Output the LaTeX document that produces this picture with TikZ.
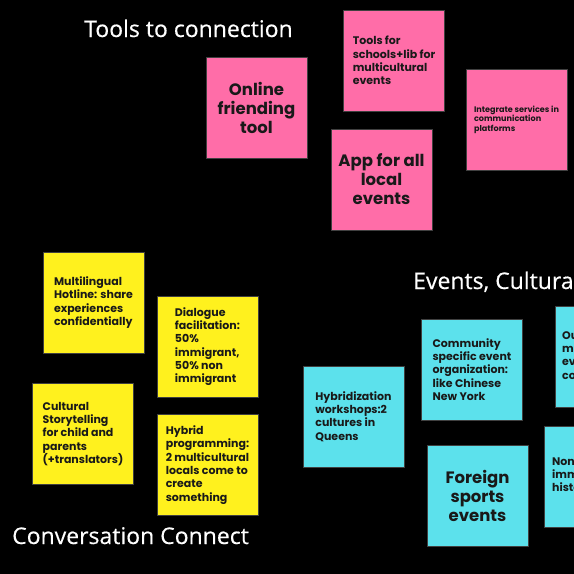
\documentclass[tikz,border=0pt]{standalone}
\usepackage{fontspec}
\newfontfamily\notefont{Poppins}
\newfontfamily\titlefont{Open Sans}[FakeBold=0.35]
\definecolor{notepink}{HTML}{FF6DA8}
\definecolor{noteyellow}{HTML}{FFF11E}
\definecolor{notecyan}{HTML}{5CE1EC}
\tikzset{
  notetext/.style={align=left, font=\notefont\bfseries\fontsize{11}{13.3}\selectfont, text=black!90},
  note/.style={notetext, draw=black!75, line width=0.6pt, minimum width=101pt, minimum height=101pt,
    inner sep=0pt},
  bignote/.style={note, align=center, font=\notefont\bfseries\fontsize{16.5}{19}\selectfont},
  tinynote/.style={note, font=\notefont\bfseries\fontsize{8.1}{9.5}\selectfont},
  pinknote/.style={fill=notepink},
  yellownote/.style={fill=noteyellow},
  cyannote/.style={fill=notecyan},
  heading/.style={anchor=base west, inner sep=0pt, text=white, font=\titlefont\fontsize{23}{26}\selectfont}
}
\begin{document}
\begin{tikzpicture}[x=1pt, y=-1pt]
  \useasboundingbox (0,0) rectangle (574,574);
  \clip (0,0) rectangle (574,574);
  \fill[black] (0,0) rectangle (574,574);

  % Tools to connection
  \node[heading] (t1) at (84,37) {Tools to connection};
  \node[bignote, pinknote] (p1) at (256.5,107.5) {Online\\friending\\tool};
  \node[note, pinknote] (p2) at (394,60.5) {Tools for\\schools+lib for\\multicultural\\events};
  \node[tinynote, pinknote] (p3) at (516.5,119.5) {Integrate services in\\communication\\platforms};
  \node[bignote, pinknote] (p4) at (381.5,179.5) {App for all\\local\\events};

  % Conversation Connect
  \node[heading] (t2) at (12,544) {Conversation Connect};
  \node[note, yellownote] (y1) at (93.5,302.5) {Multilingual\\Hotline: share\\experiences\\confidentially};
  \node[note, yellownote] (y2) at (207.5,346.5) {Dialogue\\facilitation:\\50\%\\immigrant,\\50\% non\\immigrant};
  \node[note, yellownote] (y3) at (83,434) {Cultural\\Storytelling\\for child and\\parents\\(+translators)};
  \node[note, yellownote] (y4) at (207.5,465) {Hybrid\\programming:\\2 multicultural\\locals come to\\create\\something};

  % Events, Cultural
  \node[heading] (t3) at (413,289) {Events, Cultural};
  \node[note, cyannote] (c1) at (353.5,416.5) {Hybridization\\workshops:2\\cultures in\\Queens};
  \node[note, cyannote] (c2) at (472,369.5) {Community\\specific event\\organization:\\like Chinese\\New York};
  \node[bignote, cyannote] (c3) at (477.5,496) {Foreign\\sports\\events};
  % notes running off the right edge
  \node[note, cyannote, anchor=north west] (c4) at (554.5,306) {};
  \node[notetext, anchor=west, inner sep=0pt] (c4t) at (562,356.5) {Outreach to\\multicultural\\events in the\\community};
  \node[note, cyannote, anchor=north west] (c5) at (543.5,426) {};
  \node[notetext, anchor=west, inner sep=0pt] (c5t) at (552,476) {Non\\immigrant\\history};
\end{tikzpicture}
\end{document}
